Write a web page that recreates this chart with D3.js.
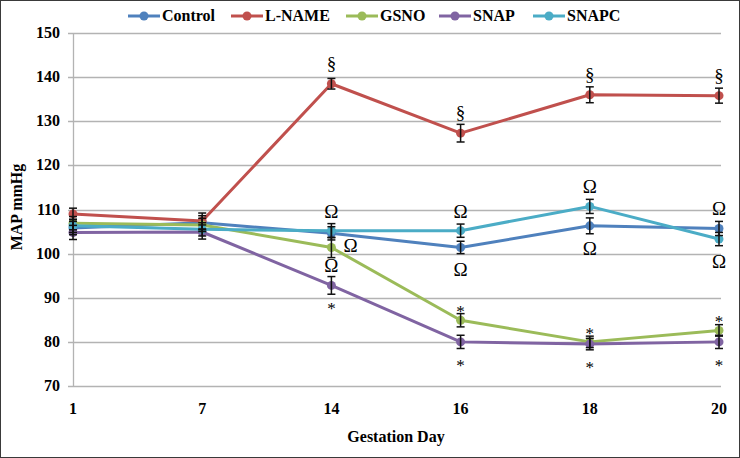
<!DOCTYPE html>
<html>
<head>
<meta charset="utf-8">
<script src="https://cdn.jsdelivr.net/npm/d3@7"></script>
<style>
  body { margin: 0; background: #fff; }
  svg { display: block; }
  svg text { font-family: "Liberation Serif", "Tinos", "DejaVu Serif", serif; font-weight: 700; fill: #000; }
  svg text.sig { font-weight: 400; }
</style>
</head>
<body>
<svg width="740" height="458"></svg>
<script>
// gestation days (categorical x axis)
const days = ["1", "7", "14", "16", "18", "20"];
const yTicks = [70, 80, 90, 100, 110, 120, 130, 140, 150];

const seriesNames = ["Control", "L-NAME", "GSNO", "SNAP", "SNAPC"];
const seriesColors = ["#4f81bd", "#c0504d", "#9bbb59", "#8064a2", "#4bacc6"];

// MAP mmHg
const control = [105.8, 107.0, 104.6, 101.4, 106.3, 105.7];
const lname = [109.0, 107.4, 138.5, 127.3, 136.0, 135.8];
const gsno = [106.9, 106.5, 101.4, 84.9, 80.0, 82.6];
const snap = [104.8, 104.9, 92.8, 80.0, 79.5, 80.0];
const snapc = [106.3, 105.5, 105.2, 105.2, 110.7, 103.3];

// standard errors
const controlErr = [1.5, 1.6, 1.5, 1.4, 1.8, 1.6];
const lnameErr = [1.3, 1.8, 1.2, 2.0, 1.8, 1.7];
const gsnoErr = [1.5, 1.5, 2.3, 1.5, 1.3, 1.3];
const snapErr = [1.6, 1.6, 2.0, 1.5, 1.3, 1.5];
const snapcErr = [1.5, 1.5, 1.6, 1.5, 1.6, 1.5];

// significance marks: [series index, day index, symbol, side]
const marks = [
  [1, 2, "§", "up"], [1, 3, "§", "up"], [1, 4, "§", "up"], [1, 5, "§", "up"],
  [4, 2, "Ω", "up"], [2, 2, "Ω", "right"], [3, 2, "Ω", "up"], [3, 2, "*", "down"],
  [4, 3, "Ω", "up"], [0, 3, "Ω", "down"], [2, 3, "*", "up"], [3, 3, "*", "down"],
  [4, 4, "Ω", "up"], [0, 4, "Ω", "down"], [2, 4, "*", "up"], [3, 4, "*", "down"],
  [0, 5, "Ω", "up"], [4, 5, "Ω", "down"], [2, 5, "*", "up"], [3, 5, "*", "down"]
];

const values = [control, lname, gsno, snap, snapc];
const errors = [controlErr, lnameErr, gsnoErr, snapErr, snapcErr];

const svg = d3.select("svg");
const plotL = 73, plotR = 719, plotT = 33, plotB = 386;

const x = d3.scalePoint().domain(days).range([plotL, plotR]);
const y = d3.scaleLinear().domain([70, 150]).range([plotB, plotT]);

// outer frame
svg.append("rect")
  .attr("x", 0.5).attr("y", 0.5)
  .attr("width", 739).attr("height", 457)
  .attr("fill", "none").attr("stroke", "#3a3a3a");

// gridlines + y ticks
svg.append("g")
  .selectAll("line")
  .data(yTicks)
  .enter()
  .append("line")
  .attr("x1", plotL - 5)
  .attr("x2", plotR + 2)
  .attr("y1", (d) => Math.round(y(d)) + 0.5)
  .attr("y2", (d) => Math.round(y(d)) + 0.5)
  .attr("stroke", "#b3b3b3")
  .attr("stroke-width", 1.3);

svg.append("line")
  .attr("x1", plotL + 0.5).attr("x2", plotL + 0.5)
  .attr("y1", plotT).attr("y2", plotB)
  .attr("stroke", "#b3b3b3").attr("stroke-width", 1.3);

svg.append("g")
  .selectAll("text")
  .data(yTicks)
  .enter()
  .append("text")
  .attr("x", 60)
  .attr("y", (d) => y(d) + 5)
  .attr("text-anchor", "end")
  .attr("font-size", "16px")
  .text((d) => d);

svg.append("g")
  .selectAll("text")
  .data(days)
  .enter()
  .append("text")
  .attr("x", (d) => x(d))
  .attr("y", 414)
  .attr("text-anchor", "middle")
  .attr("font-size", "16px")
  .text((d) => d);

// axis titles
svg.append("text")
  .attr("x", 396).attr("y", 442)
  .attr("text-anchor", "middle")
  .attr("font-size", "16px")
  .text("Gestation Day");

svg.append("text")
  .attr("transform", "translate(22,207) rotate(-90)")
  .attr("text-anchor", "middle")
  .attr("font-size", "16px")
  .text("MAP mmHg");

// series
const line = d3.line()
  .x((d, i) => x(days[i]))
  .y((d) => y(d));

values.forEach((vals, s) => {
  const g = svg.append("g");
  g.append("path")
    .datum(vals)
    .attr("d", line)
    .attr("fill", "none")
    .attr("stroke", seriesColors[s])
    .attr("stroke-width", 3)
    .attr("stroke-linejoin", "round");

  g.selectAll("circle")
    .data(vals)
    .enter()
    .append("circle")
    .attr("cx", (d, i) => x(days[i]))
    .attr("cy", (d) => y(d))
    .attr("r", 4.5)
    .attr("fill", seriesColors[s]);
});

// error bars
values.forEach((vals, s) => {
  const g = svg.append("g").attr("stroke", "#111").attr("stroke-width", 1.5);
  vals.forEach((v, i) => {
    const cx = x(days[i]);
    const e = errors[s][i];
    g.append("line")
      .attr("x1", cx).attr("x2", cx)
      .attr("y1", y(v - e)).attr("y2", y(v + e));
    [v - e, v + e].forEach((w) => {
      g.append("line")
        .attr("x1", cx - 4).attr("x2", cx + 4)
        .attr("y1", y(w)).attr("y2", y(w));
    });
  });
});

// significance symbols
svg.append("g")
  .selectAll("text")
  .data(marks)
  .enter()
  .append("text")
  .attr("class", "sig")
  .attr("x", (m) => x(days[m[1]]) + (m[3] === "right" ? 12 : 0))
  .attr("y", (m) => {
    const py = y(values[m[0]][m[1]]);
    if (m[3] === "right") return py + 5;
    if (m[2] === "*") return m[3] === "up" ? py - 3 : py + 29;
    if (m[2] === "§") return py - 14;
    return m[3] === "up" ? py - 13 : py + 29;
  })
  .attr("text-anchor", (m) => (m[3] === "right" ? "start" : "middle"))
  .attr("font-size", (m) => (m[2] === "*" ? "17px" : "19px"))
  .text((m) => m[2]);

// legend
const legendX = [128, 231, 346, 439, 533];
const legend = svg.append("g")
  .selectAll("g")
  .data(seriesNames)
  .enter()
  .append("g")
  .attr("transform", (d, i) => `translate(${legendX[i]},16)`);

legend.append("line")
  .attr("x1", 0).attr("x2", 32)
  .attr("stroke", (d, i) => seriesColors[i])
  .attr("stroke-width", 3);
legend.append("circle")
  .attr("cx", 16).attr("r", 4.5)
  .attr("fill", (d, i) => seriesColors[i]);
legend.append("text")
  .attr("x", 34).attr("y", 5)
  .attr("font-size", "16px")
  .text((d) => d);
</script>
</body>
</html>
